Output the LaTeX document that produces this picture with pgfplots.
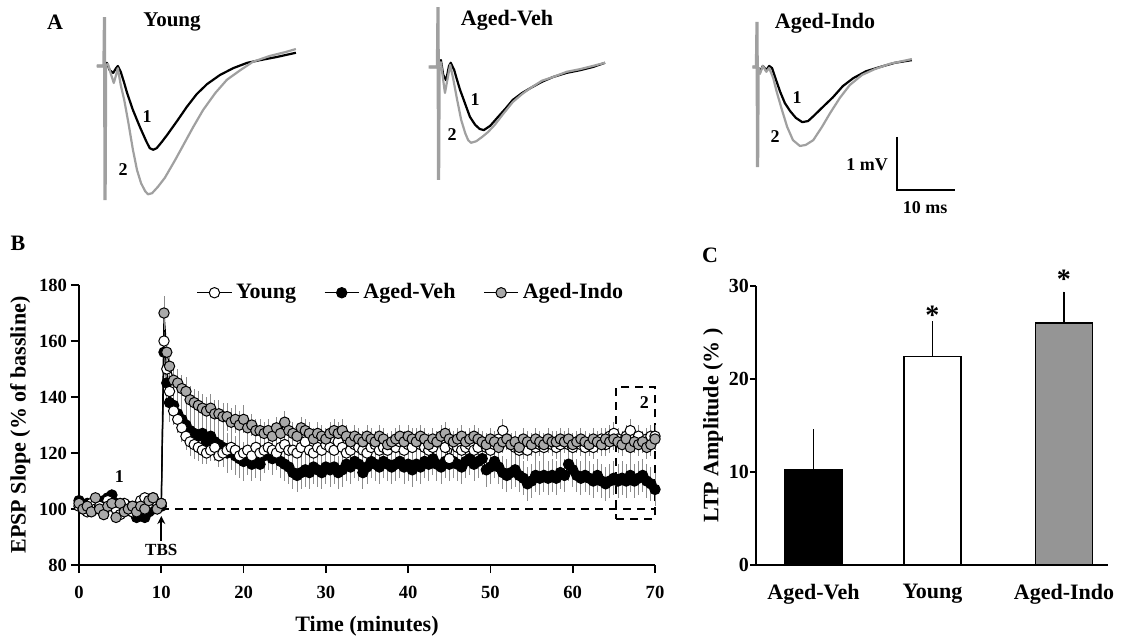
\documentclass[border=0pt]{standalone}
\usepackage{fontspec}
\setmainfont{Liberation Serif}
\usepackage{pgfplots}
\usepackage{pgfplotstable}
\pgfplotsset{compat=1.18}
\usetikzlibrary{arrows.meta}
\definecolor{tgray}{HTML}{A0A0A0}
\definecolor{mgray}{HTML}{A9A9A9}
\definecolor{bgray}{HTML}{959595}
\definecolor{egray}{HTML}{8C8C8C}
\newcommand\bfs[1]{\bfseries\fontsize{#1}{#1}\selectfont}

\pgfplotstableread{
t y ye v ve i ie
0 101 2 103 2 102 2
0.5 100 2 101 2 100 2
1 99 2 102 2 101 2
1.5 102 2 100 2 99 2
2 100 2 103 2 104 2
2.5 101 2 101 2 100 2
3 99 2 103 2 98 2
3.5 103 2 104 2 101 2
4 101 2 105 2 102 2
4.5 100 2 102 2 97 2
5 98 2 101 2 102 2
5.5 102 2 100 2 99 2
6 100 2 101 2 100 2
6.5 99 2 99 2 101 2
7 101 2 97 2 99 2
7.5 103 2 98 2 101 2
8 104 2 97 2 100 2
8.5 102 2 99 2 103 2
9 104 2 100 2 104 2
9.5 101 2 101 2 100 2
10 102 2 101 2 102 2
10.33 160 5 156 8 170 6
10.67 150 5 145 7 156 5
11 142 5 138 7 151 5
11.5 135 5 137 7 146 5
12 132 5 134 7 145 5
12.5 129 5 132 7 143 5
13 126 5 130 7 142 5
13.5 124 5 128 7 139 5
14 123 5 127 7 138 5
14.5 122 5 126 7 137 5
15 121 5 127 7 136 5
15.5 120 4 124 7 135 5
16 121 4 126 7 136 5
16.5 122 4 124 7 134 5
17 119 4 123 7 134 5
17.5 120 4 122 7 133 5
18 121 4 120 7 133 5
18.5 122 4 121 7 131 5
19 121 4 119 7 132 5
19.5 119 4 118 7 130 5
20 120 4 117 7 132 5
20.5 121 4 118 6 129 4
21 119 4 116 6 130 4
21.5 122 4 117 6 128 4
22 120 4 116 6 128 4
22.5 121 4 119 6 127 4
23 122 4 120 6 128 4
23.5 121 4 118 6 126 4
24 120 4 120 6 129 4
24.5 122 4 117 6 127 4
25 123 4 116 6 131 4
25.5 121 4 115 6 128 4
26 121 4 113 6 127 4
26.5 120 4 112 6 126 4
27 122 4 113 6 129 4
27.5 124 4 114 6 128 4
28 121 4 113 6 127 4
28.5 120 4 115 6 125 4
29 122 4 114 6 127 4
29.5 121 4 113 6 126 4
30 123 4 115 6 125 4
30.5 122 4 114 6 127 4
31 121 4 115 6 128 4
31.5 124 4 113 6 127 4
32 122 4 114 6 128 4
32.5 120 4 116 6 126 4
33 121 4 115 6 124 4
33.5 123 4 117 6 126 4
34 122 4 116 6 125 4
34.5 121 4 113 6 124 4
35 120 4 115 6 126 4
35.5 122 4 117 6 125 4
36 123 4 116 6 124 4
36.5 121 4 115 6 126 4
37 122 4 117 6 125 4
37.5 121 4 116 6 123 4
38 123 4 115 6 124 4
38.5 122 4 116 6 125 4
39 124 4 117 6 126 4
39.5 121 4 115 6 124 4
40 123 4 116 6 126 4
40.5 122 4 114 6 125 4
41 125 4 116 6 124 4
41.5 123 4 115 6 126 4
42 122 4 117 6 125 4
42.5 121 4 116 6 123 4
43 122 4 118 6 125 4
43.5 124 4 116 6 124 4
44 125 4 115 6 126 4
44.5 122 4 117 6 127 4
45 118 4 116 6 125 4
45.5 123 4 117 6 124 4
46 122 4 116 6 125 4
46.5 121 4 115 6 126 4
47 122 4 117 6 124 4
47.5 123 4 118 6 125 4
48 121 4 116 6 126 4
48.5 122 4 117 6 125 4
49 124 4 118 6 124 4
49.5 122 4 114 6 123 4
50 121 4 115 6 125 4
50.5 123 4 117 6 124 4
51 125 4 115 6 122 4
51.5 128 4 113 6 124 4
52 125 4 112 6 125 4
52.5 123 4 113 6 123 4
53 122 4 114 6 124 4
53.5 121 4 112 6 122 4
54 122 4 111 6 125 4
54.5 121 4 109 6 124 4
55 123 4 110 6 123 4
55.5 122 4 112 6 125 4
56 123 4 111 6 124 4
56.5 122 4 112 6 123 4
57 124 4 111 6 125 4
57.5 123 4 112 6 124 4
58 122 4 111 6 124 4
58.5 123 4 113 6 125 4
59 124 4 112 6 124 4
59.5 123 4 116 6 125 4
60 122 4 114 6 123 4
60.5 124 4 112 6 124 4
61 123 4 111 6 125 4
61.5 122 4 112 6 124 4
62 123 4 111 6 123 4
62.5 122 4 110 6 125 4
63 124 4 112 6 124 4
63.5 125 4 110 6 123 4
64 123 4 109 6 125 4
64.5 126 4 110 6 124 4
65 127 4 111 6 125 4
65.5 125 4 110 6 124 4
66 124 4 111 6 123 4
66.5 126 4 110 6 125 4
67 128 4 112 6 122 4
67.5 125 4 110 6 124 4
68 126 4 111 6 123 4
68.5 124 4 112 6 124 4
69 125 4 110 6 122 4
69.5 126 4 109 6 123 4
70 126 4 107 6 125 4
}\ltpdata

\begin{document}
\begin{tikzpicture}
\useasboundingbox (0,0) rectangle (563.5pt,-319.5pt);

% ---------- Panel A traces ----------
\begin{axis}[hide axis, x=2.9pt, y=26.5pt, xmin=-2, xmax=34, ymin=-2.6, ymax=1.0,
  anchor=south west, at={(46.45pt,-101.9pt)}, clip=false]
\addplot[black, line width=1.1pt, line join=round] coordinates {(-1.3,0) (0,0) (0.4,0.06) (0.9,-0.08) (1.5,-0.13) (2.0,-0.04) (2.3,0) (2.8,-0.11) (3.4,-0.32) (3.9,-0.51) (4.9,-0.83) (6.1,-1.15) (7.2,-1.42) (7.8,-1.55) (8.4,-1.58) (9.0,-1.55) (9.9,-1.43) (10.8,-1.30) (12.5,-1.04) (14.2,-0.77) (15.9,-0.53) (17.7,-0.34) (19.9,-0.17) (22.2,-0.04) (24.6,0.06) (26.8,0.11) (29.7,0.17) (33.0,0.25)};
\addplot[tgray, line width=1.1pt, line join=round] coordinates {(0,0) (0.6,0.04) (1.1,-0.15) (1.6,-0.32) (2.0,-0.17) (2.3,-0.04) (2.8,-0.36) (3.4,-0.64) (4.1,-1.06) (4.9,-1.58) (5.6,-1.96) (6.3,-2.21) (7.0,-2.36) (7.5,-2.42) (8.2,-2.40) (9.2,-2.28) (10.4,-2.11) (12.2,-1.77) (13.5,-1.51) (15.3,-1.15) (17.0,-0.83) (19.1,-0.51) (21.1,-0.26) (23.4,-0.08) (25.6,0.08) (28.5,0.19) (31.1,0.26) (33.0,0.32)};
\addplot[tgray, line width=1.6pt] coordinates {(-1.3,0) (-0.1,0) (0,0.92) (0.1,-2.53) (0.2,0)};
\end{axis}

\begin{axis}[hide axis, x=2.9pt, y=26.5pt, xmin=-2, xmax=34, ymin=-2.6, ymax=1.2,
  anchor=south west, at={(213.2pt,-102.4pt)}, clip=false]
\addplot[black, line width=1.1pt, line join=round] coordinates {(-1.4,0) (0,0) (0.5,0.13) (0.9,-0.15) (1.4,-0.25) (1.9,0.02) (2.2,0.08) (2.8,-0.06) (3.3,-0.25) (3.8,-0.43) (4.7,-0.70) (5.5,-0.94) (6.4,-1.09) (7.2,-1.17) (7.9,-1.19) (9.0,-1.11) (10.2,-0.96) (11.6,-0.79) (12.9,-0.62) (14.5,-0.49) (15.9,-0.40) (17.9,-0.28) (19.8,-0.19) (22.2,-0.11) (24.5,-0.06) (26.7,0) (28.8,0.08)};
\addplot[tgray, line width=1.1pt, line join=round] coordinates {(0,0) (0.5,0.09) (0.9,-0.25) (1.2,-0.49) (1.6,-0.25) (2.1,0.04) (2.6,-0.21) (3.3,-0.62) (4.0,-1.00) (4.7,-1.25) (5.2,-1.38) (5.7,-1.43) (6.6,-1.40) (7.6,-1.32) (8.6,-1.23) (9.8,-1.09) (11.2,-0.89) (12.9,-0.66) (14.5,-0.51) (15.9,-0.40) (17.9,-0.26) (19.8,-0.19) (22.2,-0.09) (24.5,-0.04) (26.7,0.02) (28.8,0.08)};
\addplot[tgray, line width=1.6pt] coordinates {(-1.6,0) (-0.1,0) (0,1.13) (0.1,-2.13) (0.2,0)};
\end{axis}

\begin{axis}[hide axis, x=2.9pt, y=26.5pt, xmin=-2, xmax=36, ymin=-2.6, ymax=1.0,
  anchor=south west, at={(372.7pt,-102.4pt)}, clip=false]
\addplot[black, line width=1.1pt, line join=round] coordinates {(-0.7,0) (0,0) (0.5,-0.09) (1.0,0.02) (1.6,-0.06) (2.1,0.02) (2.6,-0.02) (3.3,-0.25) (4.0,-0.47) (4.8,-0.68) (5.7,-0.83) (6.7,-0.96) (7.8,-1.04) (8.8,-1.02) (9.8,-0.92) (11.2,-0.77) (13.1,-0.57) (14.8,-0.36) (16.6,-0.21) (18.8,-0.08) (21.2,0) (23.8,0.08) (26.7,0.13)};
\addplot[tgray, line width=1.1pt, line join=round] coordinates {(0,0) (0.5,-0.13) (1.0,0.02) (1.6,-0.09) (2.1,-0.02) (2.8,-0.21) (3.4,-0.47) (4.3,-0.81) (5.2,-1.13) (6.2,-1.38) (7.4,-1.49) (8.4,-1.47) (9.7,-1.38) (11.2,-1.13) (12.6,-0.87) (14.3,-0.58) (16.0,-0.34) (18.1,-0.15) (20.3,-0.04) (22.9,0.06) (26.7,0.15)};
\addplot[tgray, line width=1.6pt] coordinates {(-0.8,0) (-0.1,0) (0,0.85) (0.1,-1.89) (0.2,0)};
% scale bar: 10 ms, 1 mV
\addplot[black, line width=0.9pt] coordinates {(24.1,-1.32) (24.1,-2.32) (34.1,-2.32)};
\end{axis}

\node[font=\bfs{11}] at (27.5pt,-11pt) {A};
\node[font=\bfs{10.5}] at (86pt,-11pt) {Young};
\node[font=\bfs{11}] at (253.5pt,-10pt) {Aged-Veh};
\node[font=\bfs{11}] at (412.5pt,-11.5pt) {Aged-Indo};
\node[font=\bfs{9}] at (73.5pt,-58.5pt) {1};
\node[font=\bfs{9}] at (61.5pt,-85pt) {2};
\node[font=\bfs{9}] at (237.5pt,-50pt) {1};
\node[font=\bfs{9}] at (226pt,-67.5pt) {2};
\node[font=\bfs{9}] at (398.5pt,-49pt) {1};
\node[font=\bfs{9}] at (387.5pt,-68.5pt) {2};
\node[font=\bfs{9}] at (433.5pt,-82.5pt) {1 mV};
\node[font=\bfs{9}] at (462.5pt,-104pt) {10 ms};
\node[font=\bfs{11}] at (9pt,-121.5pt) {B};
\node[font=\bfs{11}] at (355pt,-127.5pt) {C};

% ---------- Panel B ----------
\begin{axis}[at={(39.5pt,-282.5pt)}, anchor=south west, scale only axis,
  width=288pt, height=140pt, xmin=0, xmax=70, ymin=80, ymax=180,
  axis x line*=bottom, axis y line*=left,
  xtick={0,10,...,70}, ytick={80,100,...,180},
  tick align=outside, major tick length=4pt,
  axis line style={line width=0.8pt}, tick style={line width=0.8pt, black},
  tick label style={font=\bfs{9.3}},
  xticklabel style={yshift=-3pt},
  yticklabel style={xshift=1.5pt},
  /pgf/number format/assume math mode=true,
  xlabel={Time (minutes)}, ylabel={EPSP Slope (\% of bassline)},
  label style={font=\bfs{11}},
  xlabel style={at={(rel axis cs:0.5,-0.218)}, anchor=center},
  ylabel style={at={(rel axis cs:-0.102,0.5)}, anchor=center},
  clip=false,
  legend columns=3,
  legend style={at={(0.578,1.035)}, anchor=north, draw=none, fill=none,
    font=\bfs{11}, /tikz/every even column/.append style={column sep=12pt}},
  error bars/error bar style={line width=0.45pt, color=egray},
  error bars/error mark=none]
\addlegendimage{black, line width=0.6pt, mark=*, mark size=2.6pt, mark options={fill=white, draw=black, line width=0.5pt}}
\addlegendentry{Young}
\addlegendimage{black, line width=0.6pt, mark=*, mark size=2.6pt, mark options={fill=black, draw=black, line width=0.5pt}}
\addlegendentry{Aged-Veh}
\addlegendimage{black, line width=0.6pt, mark=*, mark size=2.6pt, mark options={fill=mgray, draw=black, line width=0.5pt}}
\addlegendentry{Aged-Indo}
\addplot[forget plot, black, line width=0.9pt, dash pattern=on 4pt off 3pt] coordinates {(10,100) (70,100)};
\addplot[forget plot, black, line width=0.9pt, dash pattern=on 4pt off 3pt] coordinates {(65.3,96.5) (70,96.5) (70,143.5) (65.3,143.5) (65.3,96.5)};
\addplot[forget plot, black, line width=0.6pt, mark=*, mark size=2.6pt, mark options={fill=black, draw=black, line width=0.5pt},
  error bars/.cd, y dir=both, y explicit] table[x=t, y=v, y error=ve] {\ltpdata};
\addplot[forget plot, black, line width=0.6pt, mark=*, mark size=2.6pt, mark options={fill=white, draw=black, line width=0.5pt},
  error bars/.cd, y dir=both, y explicit] table[x=t, y=y, y error=ye] {\ltpdata};
\addplot[forget plot, black, line width=0.6pt, mark=*, mark size=2.6pt, mark options={fill=mgray, draw=black, line width=0.5pt},
  error bars/.cd, y dir=both, y explicit] table[x=t, y=i, y error=ie] {\ltpdata};
\node[font=\bfs{9}] at (axis cs:4.9,111.5) {1};
\node[font=\bfs{9}] at (axis cs:68.7,138) {2};
\draw[-{Stealth[length=4pt,width=4pt]}, line width=0.9pt] (axis cs:10,88.5) -- (axis cs:10,97.5);
\node[font=\bfs{8.5}] at (axis cs:10,85.3) {TBS};
\end{axis}

% ---------- Panel C ----------
\begin{axis}[at={(378pt,-282.5pt)}, anchor=south west, scale only axis,
  width=176pt, height=139.5pt, xmin=-0.483, xmax=2.475, ymin=0, ymax=30,
  axis x line*=bottom, axis y line*=left,
  ytick={0,10,20,30}, xtick={0,1,2.105}, xticklabels={Aged-Veh,Young,Aged-Indo},
  x tick style={draw=none}, y tick style={line width=0.8pt, black},
  tick align=outside, major tick length=3pt,
  axis line style={line width=0.8pt},
  yticklabel style={font=\bfs{10}, xshift=3pt},
  xticklabel style={font=\bfs{11}, yshift=-3pt},
  /pgf/number format/assume math mode=true,
  ylabel={LTP Amplitude (\% )}, label style={font=\bfs{11}},
  ylabel style={at={(rel axis cs:-0.122,0.5)}, anchor=center},
  clip=false]
\addplot[ybar, bar width=28.5pt, bar shift=0pt, fill=black, draw=black, line width=0.8pt,
  error bars/.cd, y dir=plus, y explicit, error mark=none, error bar style={line width=0.8pt, black}]
  coordinates {(0,10.2) +- (0,4.4)};
\addplot[ybar, bar width=28.5pt, bar shift=0pt, fill=white, draw=black, line width=0.8pt,
  error bars/.cd, y dir=plus, y explicit, error mark=none, error bar style={line width=0.8pt, black}]
  coordinates {(1,22.4) +- (0,3.8)};
\addplot[ybar, bar width=28.5pt, bar shift=0pt, fill=bgray, draw=black, line width=0.8pt,
  error bars/.cd, y dir=plus, y explicit, error mark=none, error bar style={line width=0.8pt, black}]
  coordinates {(2.105,26.0) +- (0,3.4)};
\node[font=\bfs{14}] at (axis cs:1,26.9) {*};
\node[font=\bfs{14}] at (axis cs:2.105,30.7) {*};
\end{axis}
\end{tikzpicture}
\end{document}
